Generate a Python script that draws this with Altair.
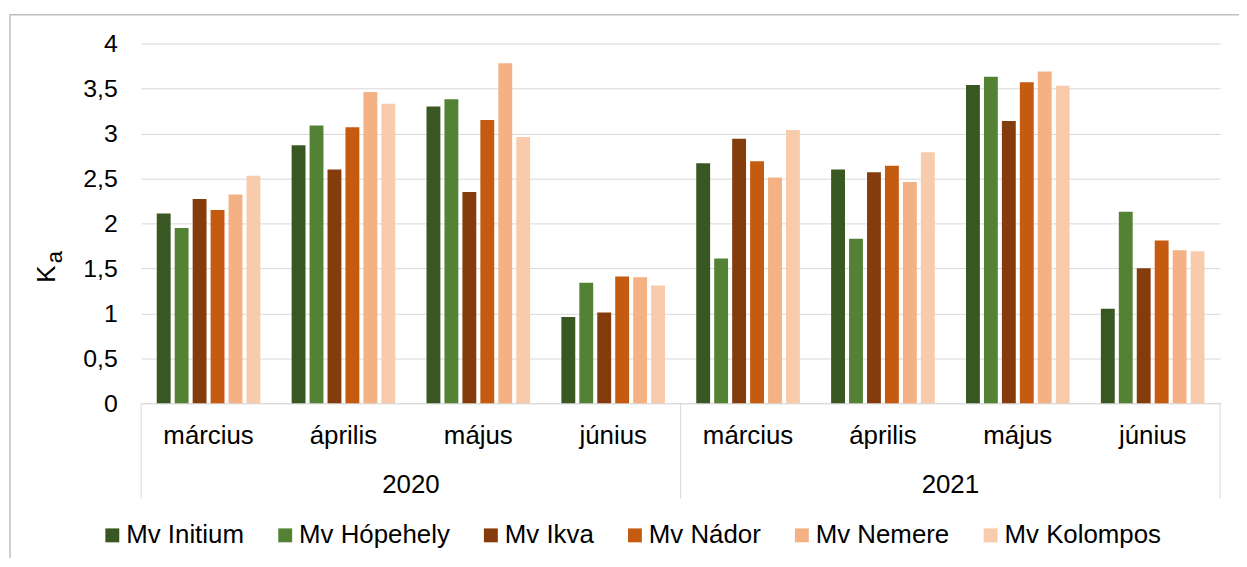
import altair as alt
import pandas as pd

# ---- data ----
years = ["2020", "2020", "2020", "2020", "2021", "2021", "2021", "2021"]
months = ["március", "április", "május", "június", "március", "április", "május", "június"]
varieties = ["Mv Initium", "Mv Hópehely", "Mv Ikva", "Mv Nádor", "Mv Nemere", "Mv Kolompos"]
colors = ["#385723", "#548235", "#843C0C", "#C55A11", "#F4B183", "#F8CBAD"]

initium = [2.11, 2.87, 3.30, 0.96, 2.67, 2.60, 3.54, 1.05]
hopehely = [1.95, 3.09, 3.38, 1.34, 1.61, 1.83, 3.63, 2.13]
ikva = [2.27, 2.60, 2.35, 1.01, 2.94, 2.57, 3.14, 1.50]
nador = [2.15, 3.07, 3.15, 1.41, 2.69, 2.64, 3.57, 1.81]
nemere = [2.32, 3.46, 3.78, 1.40, 2.51, 2.46, 3.69, 1.70]
kolompos = [2.53, 3.33, 2.96, 1.31, 3.04, 2.79, 3.53, 1.69]

series = [initium, hopehely, ikva, nador, nemere, kolompos]
groups = [f"{y} {m}" for y, m in zip(years, months)]

rows = []
for v, vals in zip(varieties, series):
    for g, val in zip(groups, vals):
        rows.append({"grp": g, "variety": v, "value": val})
df = pd.DataFrame(rows)

df_months = pd.DataFrame({"grp": groups, "month": months})
df_years = pd.DataFrame({"grp": [groups[1], groups[5]], "year": ["2020", "2021"]})
df_sep_left = pd.DataFrame({"grp": [groups[0], groups[4]]})
df_sep_right = pd.DataFrame({"grp": [groups[7]]})
one = pd.DataFrame({"k": [0]})

FONT = "Liberation Sans"
GRID = "#D9D9D9"
W, H = 1086, 362

xscale = alt.Scale(domain=groups, paddingInner=0, paddingOuter=0)
xaxis = alt.Axis(labels=False, ticks=False, grid=False, title=None,
                 domain=True, domainColor=GRID, domainWidth=1)

bars = alt.Chart(df).mark_bar().encode(
    x=alt.X("grp:N", scale=xscale, axis=xaxis, sort=groups),
    xOffset=alt.XOffset("variety:N", sort=varieties,
                        scale=alt.Scale(domain=varieties, paddingInner=0.227, paddingOuter=0.87)),
    y=alt.Y("value:Q", scale=alt.Scale(domain=[0, 4], nice=False),
            axis=alt.Axis(values=[0, 0.5, 1, 1.5, 2, 2.5, 3, 3.5, 4],
                          labelExpr="replace(toString(datum.value), '.', ',')",
                          grid=True, gridColor=GRID, gridWidth=1,
                          domain=False, ticks=False, title=None,
                          labelFontSize=25, labelFont=FONT, labelColor="#000000",
                          labelPadding=24)),
    color=alt.Color("variety:N", sort=varieties,
                    scale=alt.Scale(domain=varieties, range=colors),
                    legend=alt.Legend(orient="none", legendX=-42, legendY=482,
                                      direction="horizontal", columns=6, title=None,
                                      symbolType="square", symbolSize=196,
                                      symbolStrokeWidth=0, labelFontSize=26,
                                      labelFont=FONT, labelColor="#000000",
                                      labelOffset=1, columnPadding=28,
                                      labelLimit=400, padding=0)),
)

month_text = alt.Chart(df_months).mark_text(
    fontSize=26, font=FONT, color="#000000", baseline="alphabetic", align="center"
).encode(
    x=alt.X("grp:N", scale=xscale, sort=groups),
    y=alt.value(403),
    text="month:N",
)

year_text = alt.Chart(df_years).mark_text(
    fontSize=26, font=FONT, color="#000000", baseline="alphabetic", align="center"
).encode(
    x=alt.X("grp:N", scale=xscale, sort=groups, bandPosition=1),
    y=alt.value(452),
    text="year:N",
)

sep_left = alt.Chart(df_sep_left).mark_rule(color=GRID, strokeWidth=1).encode(
    x=alt.X("grp:N", scale=xscale, sort=groups, bandPosition=0),
    y=alt.value(H),
    y2=alt.value(H + 96),
)
sep_right = alt.Chart(df_sep_right).mark_rule(color=GRID, strokeWidth=1).encode(
    x=alt.X("grp:N", scale=xscale, sort=groups, bandPosition=1),
    y=alt.value(H),
    y2=alt.value(H + 96),
)

title_k = alt.Chart(one).mark_text(
    text="K", fontSize=26, font=FONT, color="#000000", angle=270,
    align="center", baseline="alphabetic"
).encode(x=alt.value(-87), y=alt.value(232))
title_a = alt.Chart(one).mark_text(
    text="a", fontSize=22, font=FONT, color="#000000", angle=270,
    align="center", baseline="alphabetic"
).encode(x=alt.value(-80), y=alt.value(215))

border = alt.Chart(one).mark_rect(filled=False, color="#BFBFBF", strokeWidth=1.5).encode(
    x=alt.value(-132), x2=alt.value(1400), y=alt.value(-29), y2=alt.value(800)
)

chart = alt.layer(
    border, bars, month_text, year_text, sep_left, sep_right, title_k, title_a
).properties(
    width=W, height=H,
    autosize=alt.AutoSizeParams(type="none"),
    padding={"left": 134, "top": 34, "right": 19, "bottom": 154},
).configure_view(stroke=None)

chart.save("out.html", embed_options={"renderer": "svg", "actions": False})
